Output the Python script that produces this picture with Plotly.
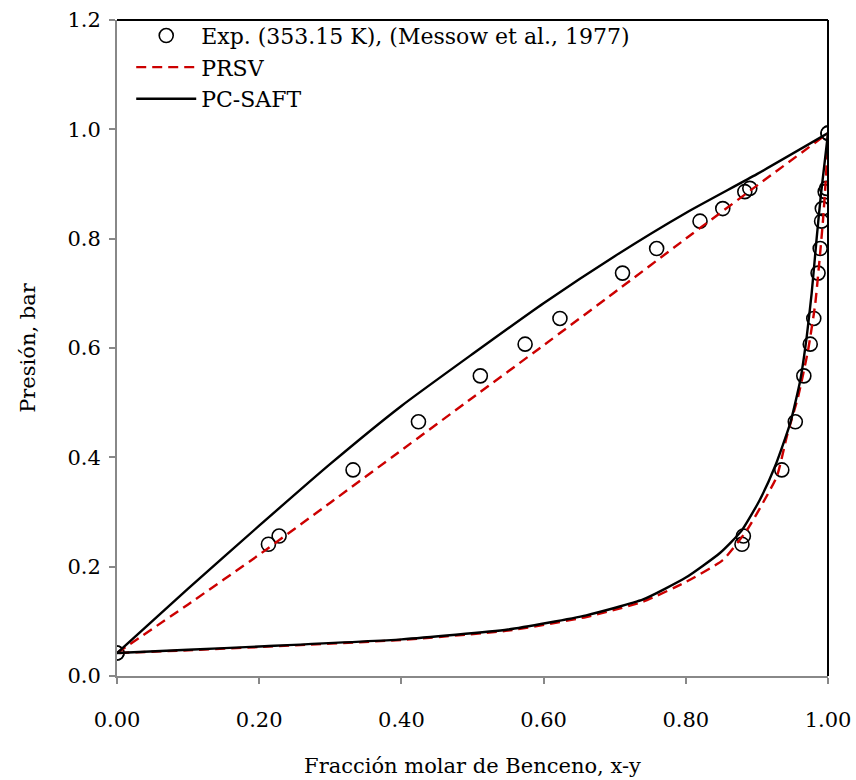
import plotly.graph_objects as go

# Experimental data (Messow et al., 1977), 353.15 K
P_exp = [0.042, 0.241, 0.256, 0.377, 0.465, 0.549, 0.607, 0.654, 0.737, 0.782, 0.832, 0.855, 0.886, 0.892, 0.993]
x_exp = [0.0, 0.213, 0.228, 0.332, 0.424, 0.511, 0.574, 0.623, 0.711, 0.759, 0.820, 0.852, 0.883, 0.890, 1.0]
y_exp = [0.0, 0.879, 0.881, 0.935, 0.954, 0.966, 0.975, 0.980, 0.986, 0.989, 0.991, 0.992, 0.996, 0.998, 1.0]

# PRSV model: bubble (x) and dew (y) curves
prsv_bub_x = [0.0, 0.1, 0.2, 0.3, 0.4, 0.5, 0.6, 0.7, 0.8, 0.9, 1.0]
prsv_bub_P = [0.042, 0.131, 0.222, 0.317, 0.413, 0.509, 0.605, 0.702, 0.800, 0.897, 0.993]
prsv_dew_y = [1.0, 0.997, 0.993, 0.988, 0.982, 0.972, 0.958, 0.942, 0.928, 0.886, 0.852, 0.80, 0.74, 0.66, 0.55, 0.4, 0.2, 0.1, 0.0]
prsv_dew_P = [0.993, 0.91, 0.834, 0.76, 0.68, 0.596, 0.511, 0.438, 0.365, 0.267, 0.212, 0.172, 0.136, 0.108, 0.083, 0.066, 0.053, 0.047, 0.042]

# PC-SAFT model: bubble (x) and dew (y) curves
saft_bub_x = [0.0, 0.1, 0.2, 0.3, 0.4, 0.5, 0.6, 0.7, 0.8, 0.9, 1.0]
saft_bub_P = [0.042, 0.160, 0.275, 0.388, 0.494, 0.589, 0.682, 0.768, 0.847, 0.918, 0.993]
saft_dew_y = [1.0, 0.990, 0.984, 0.977, 0.970, 0.961, 0.947, 0.926, 0.904, 0.878, 0.848, 0.80, 0.74, 0.66, 0.55, 0.4, 0.2, 0.1, 0.0]
saft_dew_P = [0.993, 0.88, 0.80, 0.70, 0.62, 0.541, 0.463, 0.385, 0.322, 0.265, 0.225, 0.18, 0.14, 0.111, 0.085, 0.067, 0.054, 0.048, 0.042]

x_ticks = [0.0, 0.2, 0.4, 0.6, 0.8, 1.0]
y_ticks = [0.0, 0.2, 0.4, 0.6, 0.8, 1.0, 1.2]

FONT = "DejaVu Serif"
GRAY = "#888888"
FS = 21
FSL = 22

prsv_line = dict(color="#cc0000", width=2.4, dash="10px,6px", shape="spline", smoothing=0.5)
saft_line = dict(color="black", width=2.4, shape="spline", smoothing=0.5)

fig = go.Figure()
fig.add_trace(go.Scatter(
    x=x_exp + y_exp, y=P_exp + P_exp, mode="markers",
    name="Exp. (353.15 K), (Messow et al., 1977)",
    marker=dict(symbol="circle-open", size=14, color="black", line=dict(width=1.6, color="black")),
))
fig.add_trace(go.Scatter(x=prsv_bub_x, y=prsv_bub_P, mode="lines", name="PRSV",
                         legendgroup="prsv", line=prsv_line))
fig.add_trace(go.Scatter(x=saft_bub_x, y=saft_bub_P, mode="lines", name="PC-SAFT",
                         legendgroup="saft", line=saft_line))
fig.add_trace(go.Scatter(x=prsv_dew_y, y=prsv_dew_P, mode="lines", name="PRSV",
                         legendgroup="prsv", showlegend=False, line=prsv_line))
fig.add_trace(go.Scatter(x=saft_dew_y, y=saft_dew_P, mode="lines", name="PC-SAFT",
                         legendgroup="saft", showlegend=False, line=saft_line))

fig.update_layout(
    width=856, height=780,
    margin=dict(l=117, r=28, t=20, b=104),
    paper_bgcolor="white", plot_bgcolor="white",
    font=dict(family=FONT, size=FS, color="black"),
    showlegend=True,
    legend=dict(x=0.02, y=1.008, xanchor="left", yanchor="top",
                bgcolor="rgba(0,0,0,0)", font=dict(family=FONT, size=FSL),
                tracegroupgap=0, itemwidth=60, traceorder="normal"),
    xaxis=dict(range=[0, 1], tickvals=x_ticks, tickformat=".2f", automargin=False,
               showgrid=False, zeroline=False, showline=True, linecolor=GRAY, linewidth=2,
               ticks="outside", ticklen=6, tickcolor=GRAY, tickwidth=2,
               ticklabelstandoff=18,
               tickfont=dict(family=FONT, size=FS),
               title=dict(text="Fracción molar de Benceno, x-y", font=dict(family=FONT, size=FS), standoff=27)),
    yaxis=dict(range=[0, 1.2], tickvals=y_ticks, tickformat=".1f", automargin=False,
               showgrid=False, zeroline=False, showline=True, linecolor=GRAY, linewidth=2,
               ticks="outside", ticklen=6, tickcolor=GRAY, tickwidth=2,
               ticklabelstandoff=4,
               tickfont=dict(family=FONT, size=FS),
               title=dict(text="Presión, bar", font=dict(family=FONT, size=FS), standoff=26)),
    shapes=[
        dict(type="line", xref="paper", yref="paper", x0=0, x1=1, y0=1, y1=1,
             line=dict(color="black", width=2), layer="above"),
        dict(type="line", xref="paper", yref="paper", x0=1, x1=1, y0=0, y1=1,
             line=dict(color="black", width=2), layer="above"),
    ],
)

fig.write_html("out.html")
